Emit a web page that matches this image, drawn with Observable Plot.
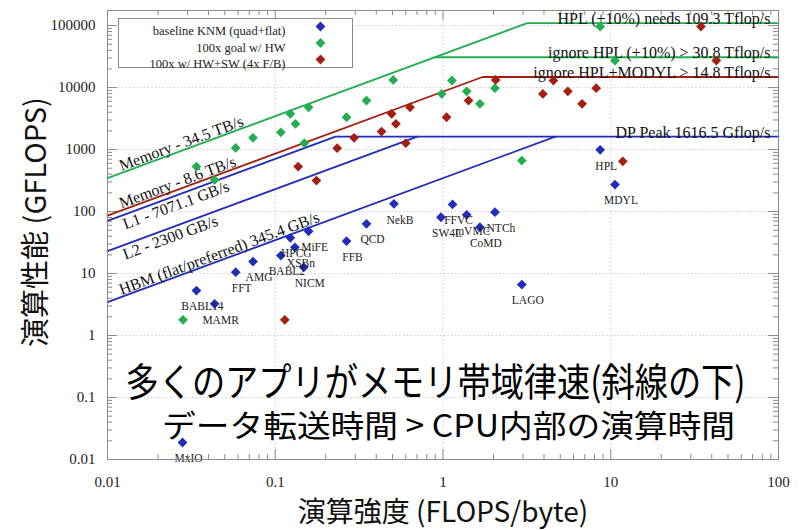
<!DOCTYPE html>
<html>
<head>
<meta charset="utf-8">
<script src="https://cdn.jsdelivr.net/npm/d3@7"></script>
<script src="https://cdn.jsdelivr.net/npm/@observablehq/plot@0.6"></script>
<style>
  html, body { margin: 0; padding: 0; background: #ffffff; }
  #chart { width: 806px; height: 530px; }
</style>
</head>
<body>
<div id="chart"></div>
<script>
// ---------------- data ----------------
const apps = ["MxIO","BABL14","MAMR","FFT","AMG","BABL2","HPCG","XSBn","MiFE","NICM","FFB","QCD","NekB","SW4L","FFVC","mVMC","CoMD","NTCh","LAGO","HPL","MDYL"];
// baseline KNM (quad+flat)
const baseX = [0.028,0.0339,0.0435,0.0581,0.0737,0.108,0.123,0.131,0.158,0.148,0.266,0.350,0.510,0.973,1.14,1.385,1.66,2.04,2.95,8.65,10.6];
const baseY = [0.0188,5.32,3.24,10.5,15.6,19.5,37.7,26.5,48.1,12.6,33.2,63.4,133,80.9,130,88.5,55.8,97.5,6.65,988,272];
// 100x goal w/ HW
const goalX = [0.0282,0.0339,0.0435,0.0581,0.0737,0.108,0.123,0.132,0.158,0.149,0.266,0.350,0.505,0.982,1.13,1.385,1.66,2.04,2.95,8.65,10.6];
const goalY = [1.79,532,324,1064,1545,1900,3770,2600,4810,1265,3320,6170,13300,7900,13000,8710,5460,9750,665,96400,27200];
// 100x w/ HW+SW (4x F/B)
const swX = [0.114,0.137,0.176,0.234,0.295,0.430,0.494,0.524,0.636,0.600,1.05,1.42,2.06,3.94,4.55,5.55,6.75,8.19,11.8,34.5,42.6];
const swY = [1.79,532,316,1050,1545,1950,3770,2600,4810,1265,3320,6170,13300,7900,13000,8710,5460,9750,647,96400,27200];

const legendLabels = ["baseline KNM (quad+flat)","100x goal w/ HW","100x w/ HW+SW (4x F/B)"];

// roofline breakpoints (FLOP/byte, GFLOPS)
const hplRoofX = [0.01, 3.17, 100],   hplRoofY = [345, 109300, 109300];
const ignRoofX = [0.893, 100],        ignRoofY = [30800, 30800];
const memRoofX = [0.01, 1.72, 100],   memRoofY = [86, 14800, 14800];
const l1RoofX  = [0.01, 0.2286, 100], l1RoofY  = [70.71, 1616.5, 1616.5];
const l2RoofX  = [0.01, 0.703],       l2RoofY  = [23, 1616.5];
const hbmRoofX = [0.01, 4.68],        hbmRoofY = [3.454, 1616.5];

const slopeLabels = ["Memory - 34.5 TB/s","Memory - 8.6 TB/s","L1 - 7071.1 GB/s","L2 - 2300 GB/s","HBM (flat/preferred) 345.4 GB/s"];
const ceilLabels = ["HPL (+10%) needs 109.3 Tflop/s","ignore HPL (+10%) > 30.8 Tflop/s","ignore HPL+MODYL > 14.8 Tflop/s","DP Peak 1616.5 Gflop/s"];
const ceilValues = [109300, 30800, 14800, 1616.5];

const xTickValues = [0.01, 0.1, 1, 10, 100];
const xTickLabels = ["0.01","0.1","1","10","100"];
const yTickValues = [0.01, 0.1, 1, 10, 100, 1000, 10000, 100000];
const yTickLabels = ["0.01","0.1","1","10","100","1000","10000","100000"];

const xTitle = "演算強度 (FLOPS/byte)";
const yTitle = "演算性能 (GFLOPS)";
const note1 = "多くのアプリがメモリ帯域律速(斜線の下)";
const note2 = "データ転送時間 > CPU内部の演算時間";

// ---------------- layout / style ----------------
const W = 806, H = 530;
const mL = 107, mR = 28, mT = 10, mB = 71;
const iw = W - mL - mR, ih = H - mT - mB;
const BLUE = "#1f2db8", GREEN = "#22ae4e", RED = "#a41f10";
const AX = "#8a8a8a";
const serif = "Liberation Serif, DejaVu Serif, serif";
const jp = "Noto Sans CJK JP, Noto Sans, sans-serif";

const minorX = [];
for (const d of [0.01, 0.1, 1, 10]) for (let k = 2; k <= 9; k++) minorX.push(d * k);
const minorY = [];
for (const d of [0.01, 0.1, 1, 10, 100, 1000, 10000, 100000]) for (let k = 2; k <= 9; k++) if (d * k < 1.75e5) minorY.push(d * k);

const labelAnchorX = 0.0121;
const slopeRoofs = [[hplRoofX, hplRoofY], [memRoofX, memRoofY], [l1RoofX, l1RoofY], [l2RoofX, l2RoofY], [hbmRoofX, hbmRoofY]];
const slopeAbove = [true, true, false, false, true];
const angle = -Math.atan((ih / Math.log10(1.75e5 / 0.01)) / (iw / 4)) * 180 / Math.PI;

function line(xs, ys, color) {
  return Plot.line(xs, {x: d => d, y: (d, i) => ys[i], stroke: color, strokeWidth: 1.8});
}

const marks = [
  // grid
  Plot.ruleX([0.1, 1, 10], {stroke: "#c4c4c4", strokeDasharray: "1.2,2.5", strokeWidth: 1}),
  Plot.ruleY([0.1, 1, 10, 100, 1000, 10000, 100000], {stroke: "#c4c4c4", strokeDasharray: "1.2,2.5", strokeWidth: 1}),
  // inward ticks (all four sides)
  Plot.tickX(xTickValues, {x: d => d, insetTop: ih - 10, stroke: AX}),
  Plot.tickX(minorX, {x: d => d, insetTop: ih - 5, stroke: AX}),
  Plot.tickX(xTickValues, {x: d => d, insetBottom: ih - 10, stroke: AX}),
  Plot.tickX(minorX, {x: d => d, insetBottom: ih - 5, stroke: AX}),
  Plot.tickY(yTickValues, {y: d => d, insetRight: iw - 10, stroke: AX}),
  Plot.tickY(minorY, {y: d => d, insetRight: iw - 5, stroke: AX}),
  Plot.tickY(yTickValues, {y: d => d, insetLeft: iw - 10, stroke: AX}),
  Plot.tickY(minorY, {y: d => d, insetLeft: iw - 5, stroke: AX}),
  // axes labels
  Plot.axisX({ticks: xTickValues, tickSize: 0, tickPadding: 17, label: null,
    tickFormat: d => xTickLabels[xTickValues.indexOf(d)], fontSize: 15, fontFamily: serif, fill: "#222"}),
  Plot.axisY({ticks: yTickValues, tickSize: 0, tickPadding: 12, label: null,
    tickFormat: d => yTickLabels[yTickValues.indexOf(d)], fontSize: 15, fontFamily: serif, fill: "#222"}),
  // legend box
  Plot.frame({insetLeft: 11, insetTop: 8, insetRight: iw - 245, insetBottom: ih - 57, fill: "white", stroke: "#8a8a8a", strokeWidth: 1}),
  ...legendLabels.map((t, i) => Plot.text([t], {frameAnchor: "top-left", dx: 178, dy: 16 + i * 16.5, textAnchor: "end", fontSize: 12.5, fontFamily: serif, fill: "#222"})),
  ...[BLUE, GREEN, RED].map((c, i) => Plot.dot([0], {frameAnchor: "top-left", dx: 213, dy: 16 + i * 16.5, symbol: "diamond2", r: 4.4, fill: c, stroke: "none"})),
  // rooflines
  line(hplRoofX, hplRoofY, GREEN),
  line(ignRoofX, ignRoofY, GREEN),
  line(memRoofX, memRoofY, RED),
  line(l1RoofX, l1RoofY, BLUE),
  line(l2RoofX, l2RoofY, BLUE),
  line(hbmRoofX, hbmRoofY, BLUE),
  // slope labels
  ...slopeLabels.map((t, i) => Plot.text([t], {
    x: labelAnchorX, y: slopeRoofs[i][1][0] * labelAnchorX / slopeRoofs[i][0][0],
    rotate: angle, textAnchor: "start", lineAnchor: slopeAbove[i] ? "bottom" : "top",
    dy: slopeAbove[i] ? -2 : 3, fontSize: 16, fontFamily: serif, fill: "#111"})),
  // ceiling labels
  Plot.text(ceilLabels, {x: 100, y: (d, i) => ceilValues[i], text: d => d, textAnchor: "end", lineAnchor: "bottom",
    dx: -8, dy: 1, fontSize: 16, fontFamily: serif, fill: "#111"}),
  // points
  Plot.dot(apps, {x: (d, i) => baseX[i], y: (d, i) => baseY[i], symbol: "diamond2", r: 4.4, fill: BLUE, stroke: "none"}),
  Plot.dot(apps, {x: (d, i) => goalX[i], y: (d, i) => goalY[i], symbol: "diamond2", r: 4.4, fill: GREEN, stroke: "none"}),
  Plot.dot(apps, {x: (d, i) => swX[i], y: (d, i) => swY[i], symbol: "diamond2", r: 4.4, fill: RED, stroke: "none"}),
  // point labels
  Plot.text(apps, {x: (d, i) => baseX[i], y: (d, i) => baseY[i], text: d => d, dx: 6, dy: 16,
    fontSize: 11.5, fontFamily: serif, fill: "#222"}),
  // frame
  Plot.frame({stroke: AX, strokeWidth: 1}),
  // titles
  Plot.text([xTitle], {frameAnchor: "bottom", textAnchor: "middle", dy: 62, fontSize: 28, fontFamily: jp, fill: "#111"}),
  Plot.text([yTitle], {frameAnchor: "left", textAnchor: "middle", dx: -71, dy: -13, rotate: -90, fontSize: 29, fontFamily: jp, fill: "#111"}),
  // annotation
  Plot.text([note1], {frameAnchor: "top-left", textAnchor: "middle", dx: 328, dy: 358, fontSize: 39, fontFamily: jp, fill: "#000"}),
  Plot.text([note2], {frameAnchor: "top-left", textAnchor: "middle", dx: 341, dy: 404, fontSize: 31, fontFamily: jp, fill: "#000"})
];

const chart = Plot.plot({
  width: W, height: H,
  marginLeft: mL, marginRight: mR, marginTop: mT, marginBottom: mB,
  style: {background: "#ffffff", fontFamily: serif, fontSize: "12px", color: "#222"},
  x: {type: "log", domain: [0.01, 100], axis: null},
  y: {type: "log", domain: [0.01, 1.75e5], axis: null},
  marks
});
document.getElementById("chart").append(chart);

d3.select(chart).selectAll("text").filter(function () { return this.textContent === note1; })
  .attr("textLength", 620).attr("lengthAdjust", "spacingAndGlyphs");
d3.select(chart).selectAll("text").filter(function () { return this.textContent === note2; })
  .attr("textLength", 573).attr("lengthAdjust", "spacingAndGlyphs");
</script>
</body>
</html>
